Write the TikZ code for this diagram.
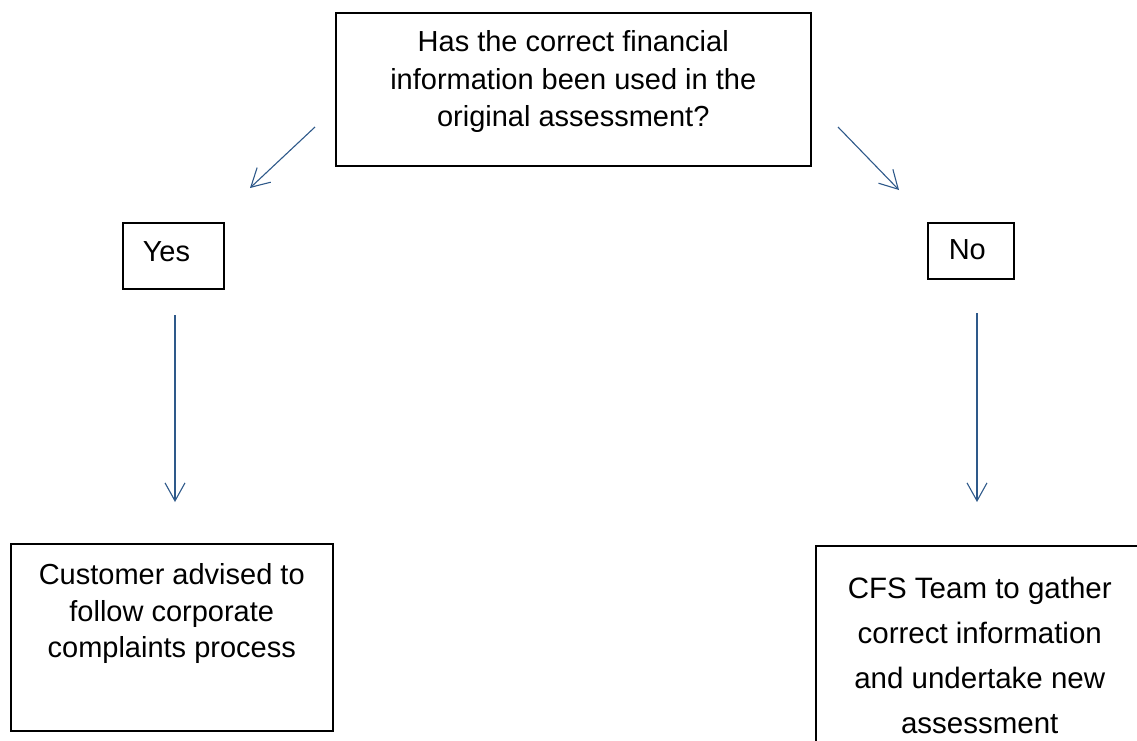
\documentclass[tikz,border=0pt]{standalone}
\usepackage{fontspec}
\setmainfont{Liberation Sans}
\usetikzlibrary{arrows.meta, positioning, calc}
\definecolor{flowblue}{RGB}{46,89,138}
\newcommand{\boxtext}[4]{\parbox[c][#2][t]{#1}{\vspace*{#3}#4}}
\tikzset{> = { Straight Barb[length = 18pt, width = 20pt] }}

\begin{document}
\begin{tikzpicture}[x = 1pt, y = -1pt, box/.style = { draw, line width = 1.5pt, inner sep = 0pt, anchor = north west, font = \fontsize{29pt}{37.5pt}\selectfont }, flow/.style = { ->, draw = flowblue, line width = 1.1pt }]
	\useasboundingbox (0,0) rectangle (1137,740);
	\clip (0,0) rectangle (1137,740);

	\node [box] (question) at (335,12) {\boxtext{475pt}{153pt}{18pt}{\centering Has the correct financial\\ information been used in the\\ original assessment?}};
	\node [box] (yes) at (122,222) {\boxtext{101pt}{66pt}{19pt}{\hspace*{20pt}Yes}};
	\node [box] (no) at (927,222) {\boxtext{86pt}{56pt}{17pt}{\hspace*{21pt}No}};
	\node [box, font = \fontsize{29pt}{36.5pt}\selectfont] (advise) at (10,543) {\boxtext{322pt}{187pt}{20pt}{\centering Customer advised to\\ follow corporate\\ complaints process}};
	\node [box, font = \fontsize{29.5pt}{45pt}\selectfont] (gather) at (815,545) {\boxtext{328pt}{215pt}{31pt}{\centering CFS Team to gather\\ correct information\\ and undertake new\\ assessment}};

	\coordinate (question-yes) at (315,127);
	\coordinate (yes-in) at (250,188);
	\coordinate (question-no) at (838,127);
	\coordinate (no-in) at (899,190);
	\coordinate (yes-out) at (175,315);
	\coordinate (advise-in) at (175,502);
	\coordinate (no-out) at (977,313);
	\coordinate (gather-in) at (977,502);

	\draw [flow] (question-yes) -- (yes-in);
	\draw [flow] (question-no) -- (no-in);
	\draw [flow] (yes-out) -- (advise-in);
	\draw [flow] (no-out) -- (gather-in);
\end{tikzpicture}
\end{document}
